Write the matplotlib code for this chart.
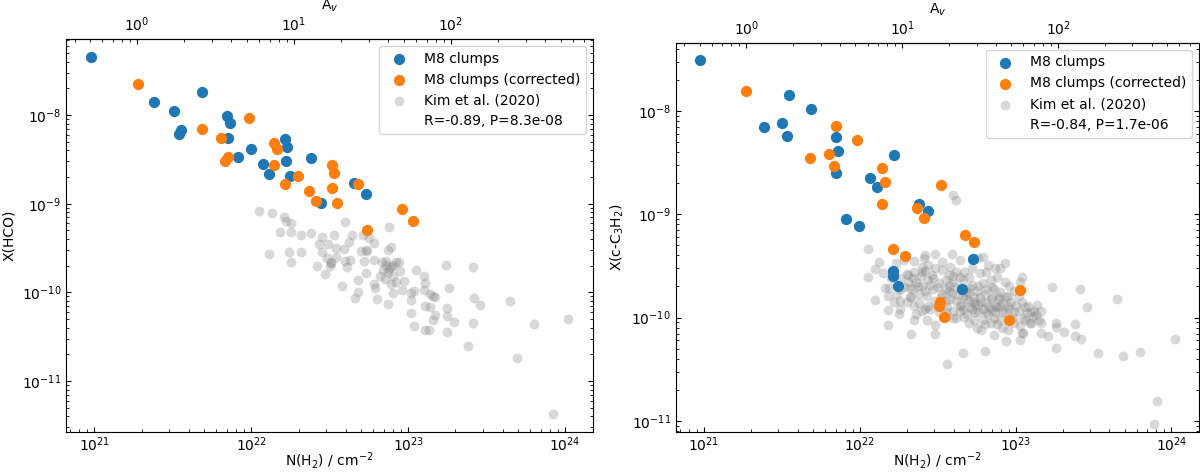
import numpy as np
import matplotlib
matplotlib.use('Agg')
import matplotlib.pyplot as plt

plt.rcParams.update({'font.size': 10})

# conversion used for the top axis: N(H2) = 1.87e21 * A_v
NH2_PER_AV = 1.87e21

# ---- HCO panel: M8 clumps ----
hco_N = [9.5e20, 2.41e21, 3.22e21, 4.87e21, 3.44e21, 3.57e21, 7.0e21, 7.29e21, 7.08e21, 8.28e21,
         9.92e21, 1.18e22, 1.30e22, 1.63e22, 1.68e22, 1.66e22, 1.77e22, 2.41e22, 2.77e22, 4.54e22, 5.39e22]
hco_X = [4.47e-8, 1.39e-8, 1.10e-8, 1.82e-8, 6.05e-9, 6.78e-9, 9.8e-9, 8.12e-9, 5.5e-9, 3.33e-9,
         4.14e-9, 2.78e-9, 2.14e-9, 5.41e-9, 4.40e-9, 3.0e-9, 2.03e-9, 3.30e-9, 1.01e-9, 1.73e-9, 1.29e-9]
hco_N_corr = [1.89e21, 4.82e21, 6.39e21, 6.83e21, 7.08e21, 9.72e21, 1.40e22, 1.46e22, 1.40e22, 1.65e22,
              1.98e22, 2.34e22, 2.58e22, 3.26e22, 3.36e22, 3.29e22, 3.53e22, 4.80e22, 9.15e22, 1.07e23, 5.50e22]
hco_X_corr = [2.22e-8, 7.0e-9, 5.55e-9, 3.05e-9, 3.33e-9, 9.17e-9, 4.88e-9, 4.10e-9, 2.75e-9, 1.68e-9,
              2.07e-9, 1.39e-9, 1.07e-9, 2.70e-9, 2.20e-9, 1.50e-9, 1.01e-9, 1.65e-9, 8.63e-10, 6.43e-10, 5.05e-10]

# ---- HCO panel: Kim et al. (2020), log10 values ----
kim_hco_logN = [22.05, 22.13, 22.21, 22.22, 22.25, 22.60, 22.88, 22.18, 22.25, 22.32,
                22.38, 22.45, 22.53, 22.64, 22.71, 22.75, 22.78, 22.43, 22.49, 22.54,
                22.59, 22.62, 22.73, 22.87, 22.89, 22.11, 22.24, 22.32, 22.45, 22.70,
                22.74, 22.25, 22.42, 22.48, 22.51, 22.54, 22.50, 22.60, 22.63, 22.61,
                22.72, 22.78, 22.83, 22.86, 22.89, 22.92, 22.94, 22.88, 22.84, 22.82,
                22.90, 22.95, 22.47, 22.68, 22.73, 22.78, 22.79, 22.85, 22.89, 22.92,
                22.97, 23.05, 23.10, 23.11, 23.24, 23.41, 22.58, 22.68, 22.66, 22.80,
                22.90, 22.96, 23.02, 23.04, 23.10, 23.14, 23.17, 23.26, 23.02, 22.87,
                23.11, 23.14, 23.25, 23.02, 23.17, 23.16, 23.25, 23.29, 23.04, 23.11,
                23.13, 23.25, 23.42, 23.46, 23.65, 23.41, 23.38, 23.69, 23.80, 24.02,
                23.92, 22.86, 22.90, 22.51, 23.16, 22.87]
kim_hco_logX = [-9.08, -9.10, -9.15, -9.19, -9.22, -9.21, -9.26, -9.32, -9.32, -9.35,
                -9.33, -9.37, -9.35, -9.35, -9.35, -9.39, -9.44, -9.46, -9.46, -9.50,
                -9.51, -9.43, -9.52, -9.52, -9.49, -9.57, -9.54, -9.55, -9.54, -9.53,
                -9.53, -9.66, -9.70, -9.61, -9.66, -9.60, -9.70, -9.65, -9.64, -9.71,
                -9.65, -9.63, -9.66, -9.65, -9.71, -9.66, -9.66, -9.74, -9.75, -9.81,
                -9.81, -9.76, -9.79, -9.86, -9.78, -9.90, -9.95, -9.85, -9.91, -9.88,
                -9.87, -9.75, -9.82, -9.89, -9.69, -9.71, -9.93, -10.00, -10.06, -10.07,
                -10.01, -9.97, -10.01, -9.98, -9.97, -10.02, -10.05, -9.95, -10.09, -10.13,
                -10.15, -10.16, -10.18, -10.23, -10.25, -10.31, -10.27, -10.33, -10.38, -10.42,
                -10.42, -10.45, -10.06, -10.14, -10.10, -10.35, -10.60, -10.74, -10.36, -10.30,
                -11.37, -9.69, -9.69, -9.67, -10.04, -9.77]

# ---- c-C3H2 panel: M8 clumps ----
c3h2_N = [9.4e20, 2.41e21, 3.18e21, 3.51e21, 3.40e21, 4.85e21, 7.0e21, 7.22e21, 7.0e21, 8.19e21,
          9.82e21, 1.16e22, 1.28e22, 1.66e22, 2.38e22, 2.74e22, 5.35e22, 1.64e22, 1.62e22, 1.76e22, 4.53e22]
c3h2_X = [3.11e-8, 6.94e-9, 7.65e-9, 1.44e-8, 5.73e-9, 1.05e-8, 5.6e-9, 4.06e-9, 2.52e-9, 9.0e-10,
          7.78e-10, 2.26e-9, 1.84e-9, 3.77e-9, 1.26e-9, 1.08e-9, 3.66e-10, 2.82e-10, 2.53e-10, 2.03e-10, 1.87e-10]
c3h2_N_corr = [1.87e21, 7.03e21, 9.62e21, 4.78e21, 6.35e21, 6.82e21, 1.39e22, 1.45e22, 1.39e22, 3.32e22,
               2.33e22, 2.57e22, 4.71e22, 5.40e22, 1.64e22, 1.96e22, 1.07e23, 3.29e22, 3.24e22, 3.49e22, 9.08e22]
c3h2_X_corr = [1.57e-8, 7.2e-9, 5.27e-9, 3.49e-9, 3.83e-9, 2.91e-9, 2.82e-9, 2.03e-9, 1.27e-9, 1.90e-9,
               1.15e-9, 9.27e-10, 6.24e-10, 5.43e-10, 4.56e-10, 3.94e-10, 1.83e-10, 1.43e-10, 1.30e-10, 1.02e-10, 9.4e-11]

# ---- c-C3H2 panel: Kim et al. (2020), log10 values ----
kim_c3h2_logN = [22.05, 22.05, 22.10, 22.18, 22.18, 22.18, 22.25, 22.33, 22.48, 22.56,
                 22.66, 22.80, 22.86, 22.94, 23.03, 23.04, 23.21, 23.26, 23.23, 23.41,
                 23.46, 23.65, 23.53, 23.69, 23.80, 24.02, 23.91, 23.89, 23.38, 23.42,
                 23.38, 23.31, 23.26, 23.26, 23.16, 23.16, 23.16, 23.14, 23.10, 23.09,
                 23.03, 23.04, 23.03, 23.02, 22.93, 22.87, 22.90, 22.59, 22.64, 22.48,
                 22.42, 22.41,
                 22.35, 22.28, 22.23, 22.12, 22.10, 22.15, 22.16, 22.19, 22.26, 22.31,
                 22.32, 22.36, 22.40, 22.44, 22.48, 22.53, 22.58, 22.62, 22.67, 22.70,
                 22.77, 22.79, 22.84, 22.88, 22.93, 22.96, 22.99, 22.95, 22.89, 22.85,
                 22.80, 22.75, 22.70, 22.66, 22.62, 22.57, 22.53, 22.47, 22.43, 22.38,
                 22.33, 22.30, 22.26, 22.35, 22.40, 22.44, 22.48, 22.56, 22.60, 22.65,
                 22.69, 22.74, 22.78, 22.83, 22.87, 22.90, 22.95, 22.99, 23.06, 23.11,
                 23.15, 22.36, 22.43, 22.48, 22.62, 22.67, 22.73, 22.78, 22.84, 22.91,
                 22.99, 23.06, 22.79, 22.90, 22.34, 22.40, 22.46, 22.51, 22.55, 22.60,
                 22.65, 22.68, 22.73, 22.76, 22.81, 22.86, 22.90, 22.81, 22.66, 22.57,
                 22.53, 22.44, 22.40, 22.35, 22.26, 22.24, 22.31, 22.64, 22.72, 22.76,
                 22.87, 23.04, 23.08, 23.12, 22.93, 22.97, 22.22, 22.26, 22.35, 22.51,
                 22.55, 22.55, 22.42, 23.05, 22.59, 22.64, 22.72, 22.82, 22.70, 22.81,
                 22.60, 22.62, 22.76, 22.79,
                 22.30, 22.34, 22.37, 22.39, 22.42, 22.45, 22.47, 22.50, 22.52, 22.55,
                 22.57, 22.58, 22.61, 22.63, 22.64, 22.66, 22.68, 22.70, 22.71, 22.73,
                 22.74, 22.76, 22.77, 22.79, 22.81, 22.82, 22.84, 22.85, 22.86, 22.88,
                 22.89, 22.91, 22.92, 22.94, 22.96, 22.98, 23.00, 23.02, 23.05, 23.07,
                 23.10, 23.13, 22.28, 22.32, 22.38, 22.45, 22.50, 22.55, 22.60, 22.70,
                 22.75, 22.80, 22.88, 22.95, 22.20, 22.22, 22.42, 22.60, 22.72, 22.85]
kim_c3h2_logX = [-9.34, -9.61, -9.83, -9.79, -9.93, -10.07, -9.97, -10.16, -10.16, -10.45,
                 -10.34, -10.32, -10.17, -10.23, -10.22, -10.15, -10.18, -10.29, -9.70, -9.72,
                 -9.90, -9.82, -10.34, -10.37, -10.33, -10.21, -10.81, -11.03, -10.06, -10.21,
                 -10.18, -10.14, -10.09, -10.05, -10.15, -10.05, -9.94, -9.88, -9.95, -10.05,
                 -10.08, -9.61, -9.66, -9.79, -9.47, -9.52, -9.52, -9.38, -9.44, -9.38,
                 -9.39, -9.42,
                 -9.45, -9.44, -9.47, -9.46, -9.53, -9.57, -9.71, -9.71, -9.62, -9.59,
                 -9.71, -9.66, -9.56, -9.64, -9.52, -9.46, -9.51, -9.56, -9.56, -9.61,
                 -9.57, -9.67, -9.64, -9.61, -9.66, -9.69, -9.74, -9.79, -9.82, -9.80,
                 -9.77, -9.74, -9.71, -9.79, -9.84, -9.74, -9.77, -9.72, -9.79, -9.77,
                 -9.80, -9.85, -9.84, -9.89, -9.94, -9.89, -9.84, -9.90, -9.94, -9.89,
                 -9.97, -9.87, -9.85, -9.90, -9.95, -9.89, -9.89, -9.95, -9.90, -9.99,
                 -10.02, -9.97, -10.02, -10.07, -10.00, -9.99, -10.02, -10.12, -10.05, -10.10,
                 -10.05, -10.02, -10.02, -10.02, -9.72, -9.69, -9.59, -9.67, -9.64, -9.66,
                 -9.71, -9.75, -9.80, -9.69, -9.72, -9.72, -9.75, -9.56, -9.64, -9.59,
                 -9.54, -9.49, -9.51, -9.56, -9.72, -9.77, -9.66, -9.94, -9.92, -9.95,
                 -9.89, -9.85, -9.89, -9.94, -9.95, -9.85, -9.85, -9.92, -10.02, -9.95,
                 -9.84, -9.99, -9.92, -10.15, -9.76, -9.61, -9.52, -9.49, -9.84, -9.95,
                 -8.81, -8.86, -9.42, -9.41,
                 -9.58, -9.62, -9.69, -9.60, -9.74, -9.68, -9.62, -9.70, -9.80, -9.72,
                 -9.68, -9.82, -9.70, -9.78, -9.88, -9.92, -9.82, -9.76, -9.90, -9.85,
                 -9.95, -9.88, -9.80, -9.92, -9.86, -9.97, -9.82, -9.92, -10.00, -9.90,
                 -9.80, -9.95, -9.86, -9.80, -9.92, -10.00, -9.88, -9.94, -10.00, -9.96,
                 -10.05, -9.98, -9.70, -9.80, -9.86, -9.92, -9.88, -9.95, -10.00, -10.05,
                 -10.10, -10.06, -10.06, -10.12, -9.62, -9.55, -9.55, -9.60, -9.68, -9.70]

panels = [
    dict(N=hco_N, X=hco_X, Nc=hco_N_corr, Xc=hco_X_corr,
         kN=kim_hco_logN, kX=kim_hco_logX, ylabel='X(HCO)',
         stats='R=-0.89, P=8.3e-08', ylim=(2.66e-12, 7.2e-8),
         rect=[0.055, 0.0886, 0.439, 0.829]),
    dict(N=c3h2_N, X=c3h2_X, Nc=c3h2_N_corr, Xc=c3h2_X_corr,
         kN=kim_c3h2_logN, kX=kim_c3h2_logX, ylabel='X(c-C$_3$H$_2$)',
         stats='R=-0.84, P=1.7e-06', ylim=(7.8e-12, 4.55e-8),
         rect=[0.5633, 0.0886, 0.4358, 0.8207]),
]

fig = plt.figure(figsize=(12, 4.74), dpi=100)

for p in panels:
    ax = fig.add_axes(p['rect'])
    ax.scatter(p['N'], p['X'], s=50, color='#1f77b4', label='M8 clumps', zorder=3)
    ax.scatter(p['Nc'], p['Xc'], s=50, color='#ff7f0e', label='M8 clumps (corrected)', zorder=3)
    ax.scatter(10 ** np.array(p['kN']), 10 ** np.array(p['kX']), s=50, color='gray',
               alpha=0.3, linewidths=0, label='Kim et al. (2020)', zorder=2)
    ax.plot([], [], ' ', label=p['stats'])

    ax.set_xscale('log')
    ax.set_yscale('log')
    ax.set_xlim(6.6e20, 1.5e24)
    ax.set_ylim(*p['ylim'])
    ax.set_xlabel('N(H$_2$) / cm$^{-2}$', labelpad=-3)
    ax.set_ylabel(p['ylabel'])
    ax.tick_params(which='both', direction='in', right=True, top=False)
    ax.tick_params(axis='x', which='major', pad=2.5)

    secax = ax.secondary_xaxis('top', functions=(lambda n: n / NH2_PER_AV,
                                                 lambda a: a * NH2_PER_AV))
    secax.set_xticks([1, 10, 100])
    secax.set_xlabel('A$_v$')
    secax.tick_params(which='both', direction='in')

    ax.legend(loc='upper right')

fig.savefig('out.png', dpi=100)
